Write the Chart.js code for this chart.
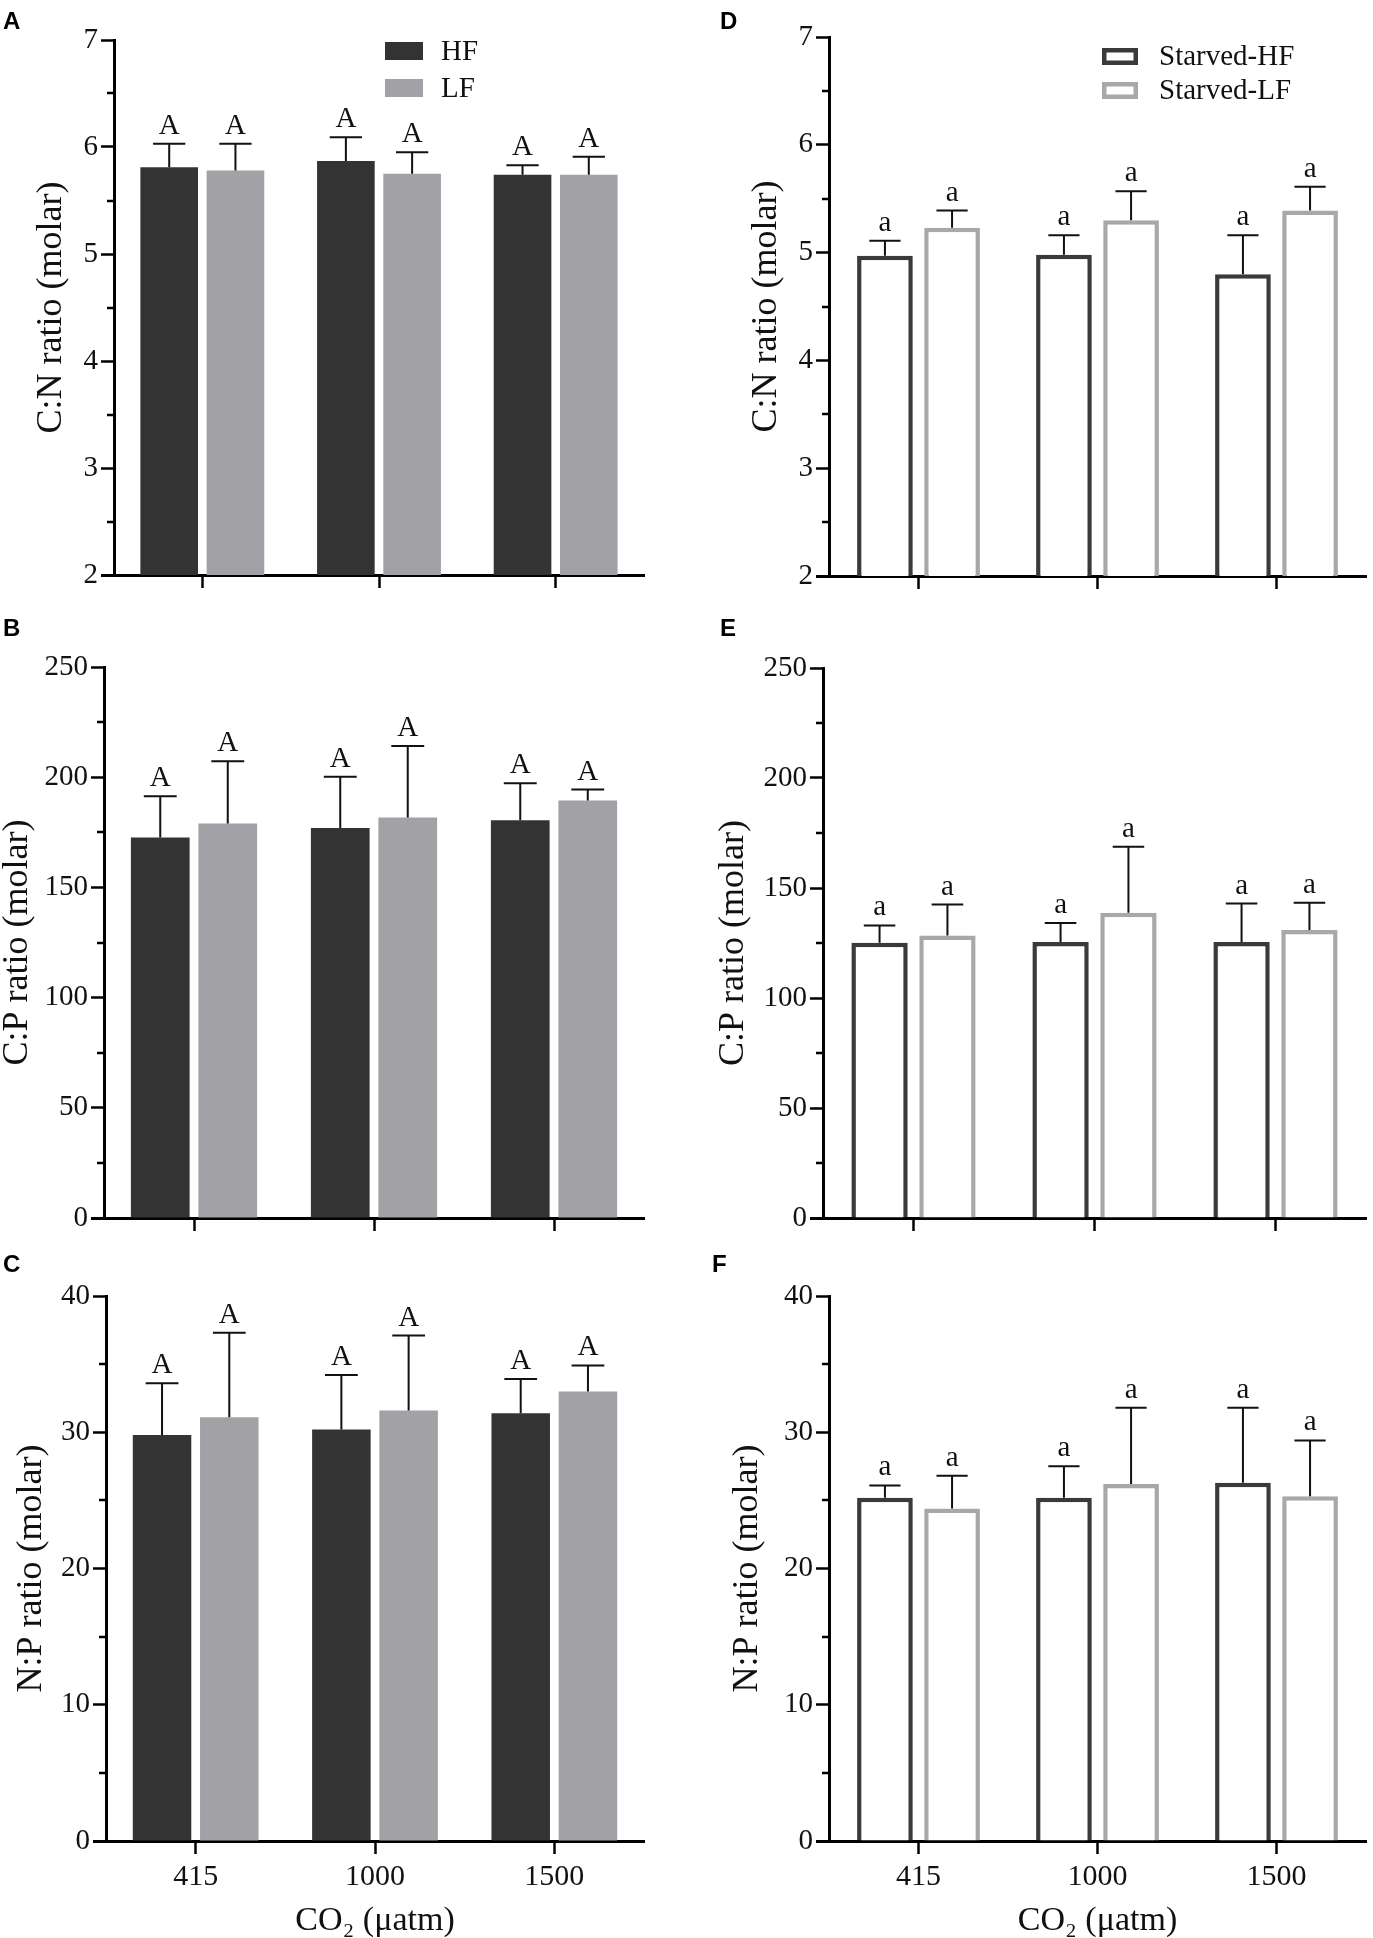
<!DOCTYPE html>
<html>
<head>
<meta charset="utf-8">
<script src="https://cdn.jsdelivr.net/npm/chart.js@4.4.1/dist/chart.umd.min.js"></script>
<style>
  body { margin: 0; background: #fff; }
  #page { position: relative; width: 1373px; height: 1938px; overflow: hidden; }
  canvas { position: absolute; }
  .tag { position: absolute; font: bold 24px "Liberation Sans", Arial, sans-serif; line-height: 1; color: #000; }
</style>
</head>
<body>
<div id="page">
  <canvas id="cA"></canvas>
  <canvas id="cB"></canvas>
  <canvas id="cC"></canvas>
  <canvas id="cD"></canvas>
  <canvas id="cE"></canvas>
  <canvas id="cF"></canvas>
  <div class="tag" style="left:3px;top:9px">A</div>
  <div class="tag" style="left:3px;top:616px">B</div>
  <div class="tag" style="left:3px;top:1252px">C</div>
  <div class="tag" style="left:720px;top:9px">D</div>
  <div class="tag" style="left:720px;top:616px">E</div>
  <div class="tag" style="left:712px;top:1252px">F</div>
</div>
<script>
// x categories
const co2Levels = ['415', '1000', '1500'];

// fed (HF / LF) — mean and SD
const cnHF = [5.81, 5.87, 5.74];
const cnHFsd = [0.22, 0.22, 0.09];
const cnLF = [5.78, 5.75, 5.74];
const cnLFsd = [0.25, 0.20, 0.17];

const cpHF = [172.6, 176.9, 180.5];
const cpHFsd = [18.8, 23.3, 16.8];
const cpLF = [179.0, 181.7, 189.4];
const cpLFsd = [28.2, 32.5, 5.0];

const npHF = [29.8, 30.2, 31.4];
const npHFsd = [3.8, 4.0, 2.5];
const npLF = [31.1, 31.6, 33.0];
const npLFsd = [6.2, 5.5, 1.9];

// starved (Starved-HF / Starved-LF)
const cnSHF = [4.97, 4.98, 4.80];
const cnSHFsd = [0.14, 0.18, 0.36];
const cnSLF = [5.23, 5.30, 5.39];
const cnSLFsd = [0.16, 0.27, 0.22];

const cpSHF = [125.1, 125.5, 125.5];
const cpSHFsd = [7.9, 8.6, 17.4];
const cpSLF = [128.4, 138.8, 130.9];
const cpSLFsd = [14.1, 30.0, 12.4];

const npSHF = [25.2, 25.2, 26.3];
const npSHFsd = [0.9, 2.3, 5.5];
const npSLF = [24.4, 26.2, 25.3];
const npSLFsd = [2.4, 5.6, 4.1];

// significance letters
const fedLetters = ['A', 'A', 'A'];
const starvedLetters = ['a', 'a', 'a'];

// y tick labels
const cnTicks = [2, 3, 4, 5, 6, 7];
const cpTicks = [0, 50, 100, 150, 200, 250];
const npTicks = [0, 10, 20, 30, 40];

const SERIF = '"Liberation Serif", "Times New Roman", serif';
Chart.defaults.font.family = SERIF;
Chart.defaults.color = '#111';

const TITLE_SIZE = 36;

const errorBars = {
  id: 'errorBars',
  afterDatasetsDraw(chart) {
    const ctx = chart.ctx;
    const y = chart.scales.y;
    chart.data.datasets.forEach((ds, di) => {
      chart.getDatasetMeta(di).data.forEach((bar, i) => {
        const top = y.getPixelForValue(ds.data[i] + ds.errors[i]);
        const half = bar.width * 0.28;
        ctx.save();
        ctx.strokeStyle = '#111';
        ctx.lineWidth = 2;
        ctx.beginPath();
        ctx.moveTo(bar.x, bar.y);
        ctx.lineTo(bar.x, top);
        ctx.moveTo(bar.x - half, top);
        ctx.lineTo(bar.x + half, top);
        ctx.stroke();
        ctx.fillStyle = '#111';
        ctx.font = '29px ' + SERIF;
        ctx.textAlign = 'center';
        ctx.textBaseline = 'alphabetic';
        ctx.fillText(ds.letters[i], bar.x, top - 10);
        ctx.restore();
      });
    });
  }
};

// minor y ticks and the short stub of the x axis left of the y axis
const axisExtras = {
  id: 'axisExtras',
  afterDraw(chart) {
    const ctx = chart.ctx;
    const y = chart.scales.y;
    const area = chart.chartArea;
    const vals = y.ticks.map(t => t.value);
    ctx.save();
    ctx.strokeStyle = '#000';
    ctx.lineWidth = 2.5;
    ctx.beginPath();
    for (let i = 0; i < vals.length - 1; i++) {
      const py = Math.round(y.getPixelForValue((vals[i] + vals[i + 1]) / 2));
      ctx.moveTo(area.left - 7, py);
      ctx.lineTo(area.left, py);
    }
    ctx.stroke();
    ctx.lineWidth = 3;
    ctx.beginPath();
    ctx.moveTo(area.left - 13, area.bottom + 0.5);
    ctx.lineTo(area.left, area.bottom + 0.5);
    ctx.stroke();
    ctx.restore();
  }
};

const insetLegend = {
  id: 'insetLegend',
  afterDraw(chart, args, opts) {
    if (!opts || opts.x === undefined) return;
    const ctx = chart.ctx;
    ctx.save();
    chart.data.datasets.forEach((d, i) => {
      const yy = opts.y + i * opts.gap;
      if (d.borderWidth) {
        ctx.lineWidth = 4.5;
        ctx.strokeStyle = d.borderColor;
        ctx.strokeRect(opts.x + 2.25, yy + 2.25, opts.w - 4.5, opts.h - 4.5);
      } else {
        ctx.fillStyle = d.backgroundColor;
        ctx.fillRect(opts.x, yy, opts.w, opts.h);
      }
      ctx.fillStyle = '#111';
      ctx.font = '29px ' + SERIF;
      ctx.textAlign = 'left';
      ctx.textBaseline = 'middle';
      ctx.fillText(d.label, opts.textX, yy + opts.h / 2 + 1);
    });
    ctx.restore();
  }
};

function makePanel(p) {
  const canvas = document.getElementById(p.id);
  const [cl, ct, cw, ch] = p.box;
  const [pl, pt, pr, pb] = p.plot;
  canvas.width = cw;
  canvas.height = ch;
  canvas.style.left = cl + 'px';
  canvas.style.top = ct + 'px';
  canvas.style.width = cw + 'px';
  canvas.style.height = ch + 'px';
  const yWidth = pl - cl;
  const xHeight = ct + ch - pb;

  const datasets = p.starved ? [
    { label: 'Starved-HF', data: p.hf, errors: p.hfSd, letters: starvedLetters,
      backgroundColor: '#ffffff', borderColor: '#3a3a3a', borderWidth: 4.5 },
    { label: 'Starved-LF', data: p.lf, errors: p.lfSd, letters: starvedLetters,
      backgroundColor: '#ffffff', borderColor: '#a8a8a8', borderWidth: 4.5 }
  ] : [
    { label: 'HF', data: p.hf, errors: p.hfSd, letters: fedLetters,
      backgroundColor: '#333333', borderWidth: 0 },
    { label: 'LF', data: p.lf, errors: p.lfSd, letters: fedLetters,
      backgroundColor: '#a2a2a6', borderWidth: 0 }
  ];
  datasets.forEach(d => { d.categoryPercentage = 0.75; d.barPercentage = p.starved ? 0.83 : 0.87; });

  const axisGrid = { drawOnChartArea: false, tickLength: 13, tickWidth: 2.5, tickColor: '#000', offset: false };
  const axisBorder = { display: true, color: '#000', width: 3 };

  new Chart(canvas, {
    type: 'bar',
    data: { labels: co2Levels, datasets },
    options: {
      responsive: false,
      animation: false,
      layout: { padding: { top: pt - ct, right: cl + cw - pr, left: 0, bottom: 0 } },
      plugins: {
        legend: { display: false },
        tooltip: { enabled: false },
        insetLegend: p.legend || {}
      },
      scales: {
        x: {
          offset: true,
          grid: axisGrid,
          border: axisBorder,
          ticks: {
            font: { family: SERIF, size: 30 },
            padding: 5,
            maxRotation: 0,
            callback(v, i) { return p.bottom ? co2Levels[i] : ''; }
          },
          title: {
            display: p.bottom,
            text: 'CO₂ (μatm)',
            font: { family: SERIF, size: 34, lineHeight: 1 },
            color: '#111',
            padding: 0
          },
          afterFit(s) { s.height = xHeight; }
        },
        y: {
          min: p.ticks[0],
          max: p.ticks[p.ticks.length - 1],
          grid: axisGrid,
          border: axisBorder,
          afterBuildTicks(s) { s.ticks = p.ticks.map(v => ({ value: v })); },
          ticks: { font: { family: SERIF, size: 29 }, padding: 3 },
          title: {
            display: true,
            text: p.title,
            font: { family: SERIF, size: TITLE_SIZE, lineHeight: 1 },
            color: '#111',
            padding: { top: p.titleX - cl - TITLE_SIZE / 2, bottom: 0 }
          },
          afterFit(s) { s.width = yWidth; }
        }
      }
    },
    plugins: [errorBars, axisExtras, insetLegend]
  });
}

const panels = [
  { id: 'cA', hf: cnHF, hfSd: cnHFsd, lf: cnLF, lfSd: cnLFsd, ticks: cnTicks,
    title: 'C:N ratio (molar)', starved: false, bottom: false,
    box: [0, 0, 650, 600], plot: [114, 40, 644, 575], titleX: 52,
    legend: { x: 385, y: 42, w: 38, h: 18, gap: 37, textX: 441 } },
  { id: 'cB', hf: cpHF, hfSd: cpHFsd, lf: cpLF, lfSd: cpLFsd, ticks: cpTicks,
    title: 'C:P ratio (molar)', starved: false, bottom: false,
    box: [0, 620, 650, 620], plot: [104, 667, 644, 1218], titleX: 18 },
  { id: 'cC', hf: npHF, hfSd: npHFsd, lf: npLF, lfSd: npLFsd, ticks: npTicks,
    title: 'N:P ratio (molar)', starved: false, bottom: true,
    box: [0, 1250, 650, 688], plot: [106, 1296, 644, 1841], titleX: 32 },
  { id: 'cD', hf: cnSHF, hfSd: cnSHFsd, lf: cnSLF, lfSd: cnSLFsd, ticks: cnTicks,
    title: 'C:N ratio (molar)', starved: true, bottom: false,
    box: [690, 0, 683, 600], plot: [829, 37, 1366, 576], titleX: 767,
    legend: { x: 412, y: 48, w: 36, h: 17, gap: 34, textX: 469 } },
  { id: 'cE', hf: cpSHF, hfSd: cpSHFsd, lf: cpSLF, lfSd: cpSLFsd, ticks: cpTicks,
    title: 'C:P ratio (molar)', starved: true, bottom: false,
    box: [690, 620, 683, 620], plot: [823, 668, 1366, 1218], titleX: 734 },
  { id: 'cF', hf: npSHF, hfSd: npSHFsd, lf: npSLF, lfSd: npSLFsd, ticks: npTicks,
    title: 'N:P ratio (molar)', starved: true, bottom: true,
    box: [690, 1250, 683, 688], plot: [829, 1296, 1366, 1841], titleX: 748 }
];

panels.forEach(makePanel);
</script>
</body>
</html>
